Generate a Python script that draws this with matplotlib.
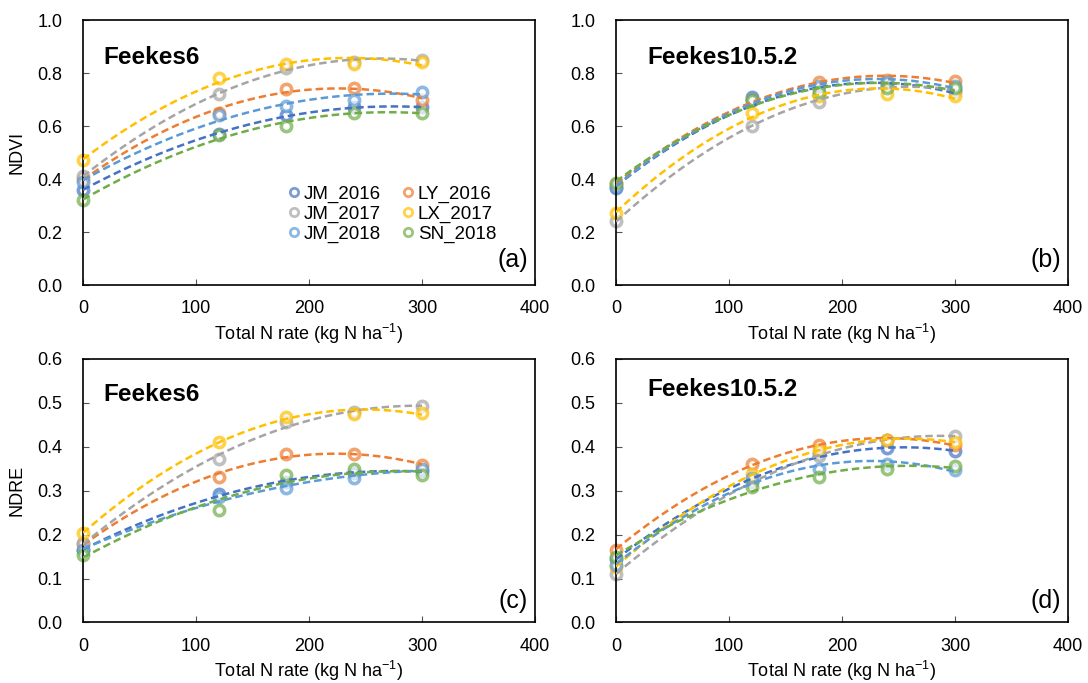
import numpy as np
import matplotlib
matplotlib.use("Agg")
import matplotlib.pyplot as plt
from matplotlib.lines import Line2D

plt.rcParams['font.family'] = ['Liberation Sans', 'DejaVu Sans']

# N rates (kg N/ha)
n_rate = [0, 120, 180, 240, 300]

sites = ["JM_2016", "LY_2016", "JM_2017", "LX_2017", "JM_2018", "SN_2018"]
colors = ["#4472C4", "#ED7D31", "#A5A5A5", "#FFC000", "#5B9BD5", "#70AD47"]

# NDVI at Feekes6 (a)
ndvi_f6 = {
    "JM_2016": [0.36, 0.57, 0.64, 0.67, 0.67],
    "LY_2016": [0.40, 0.65, 0.74, 0.745, 0.70],
    "JM_2017": [0.41, 0.72, 0.82, 0.84, 0.85],
    "LX_2017": [0.47, 0.78, 0.835, 0.835, 0.84],
    "JM_2018": [0.39, 0.64, 0.675, 0.70, 0.73],
    "SN_2018": [0.32, 0.565, 0.60, 0.65, 0.65],
}
# NDVI at Feekes10.5.2 (b)
ndvi_f10 = {
    "JM_2016": [0.365, 0.71, 0.72, 0.75, 0.735],
    "LY_2016": [0.38, 0.70, 0.765, 0.775, 0.77],
    "JM_2017": [0.24, 0.60, 0.69, 0.76, 0.73],
    "LX_2017": [0.27, 0.65, 0.715, 0.72, 0.715],
    "JM_2018": [0.37, 0.70, 0.75, 0.765, 0.75],
    "SN_2018": [0.385, 0.70, 0.73, 0.745, 0.745],
}
# NDRE at Feekes6 (c)
ndre_f6 = {
    "JM_2016": [0.165, 0.292, 0.32, 0.34, 0.345],
    "LY_2016": [0.178, 0.331, 0.384, 0.384, 0.358],
    "JM_2017": [0.18, 0.371, 0.456, 0.48, 0.492],
    "LX_2017": [0.203, 0.411, 0.468, 0.475, 0.477],
    "JM_2018": [0.165, 0.285, 0.305, 0.328, 0.35],
    "SN_2018": [0.153, 0.256, 0.335, 0.35, 0.335],
}
# NDRE at Feekes10.5.2 (d)
ndre_f10 = {
    "JM_2016": [0.145, 0.32, 0.385, 0.396, 0.39],
    "LY_2016": [0.166, 0.36, 0.405, 0.415, 0.405],
    "JM_2017": [0.11, 0.32, 0.38, 0.415, 0.425],
    "LX_2017": [0.127, 0.337, 0.392, 0.416, 0.411],
    "JM_2018": [0.13, 0.328, 0.35, 0.36, 0.348],
    "SN_2018": [0.15, 0.309, 0.33, 0.35, 0.356],
}

panels = [
    (ndvi_f6, "Feekes6", "(a)", "NDVI", 1.0),
    (ndvi_f10, "Feekes10.5.2", "(b)", "", 1.0),
    (ndre_f6, "Feekes6", "(c)", "NDRE", 0.6),
    (ndre_f10, "Feekes10.5.2", "(d)", "", 0.6),
]

fig = plt.figure(figsize=(10.88, 6.83), dpi=100)
pos = [
    [0.0763, 0.5827, 0.4154, 0.388],
    [0.5662, 0.5827, 0.4154, 0.388],
    [0.0763, 0.0886, 0.4154, 0.386],
    [0.5662, 0.0886, 0.4154, 0.386],
]
title_xy = [(0.044, 0.86), (0.069, 0.86), (0.044, 0.866), (0.069, 0.885)]
tag_y = [0.093, 0.093, 0.08, 0.08]

xs = np.array(n_rate, dtype=float)
xfit = np.linspace(0, 300, 200)

for i, (data, stage, tag, ylab, ymax) in enumerate(panels):
    ax = fig.add_axes(pos[i])
    for site, col in zip(sites, colors):
        ys = np.array(data[site])
        coef = np.polyfit(xs, ys, 2)  # 2nd order trend line
        ax.plot(xfit, np.polyval(coef, xfit), color=col, lw=1.8,
                ls=(0, (3, 1.6)), zorder=3)
        ax.scatter(xs, ys, s=55, facecolors="white", edgecolors=col,
                   linewidths=2.6, alpha=0.7, zorder=2, clip_on=False)
    ax.set_xlim(0, 400)
    ax.set_ylim(0, ymax)
    ax.set_xticks([0, 100, 200, 300, 400])
    if ymax == 1.0:
        ax.set_yticks(np.arange(0, 1.01, 0.2))
    else:
        ax.set_yticks(np.arange(0, 0.61, 0.1))
    ax.yaxis.set_major_formatter(matplotlib.ticker.FormatStrFormatter("%.1f"))
    ax.tick_params(labelsize=13, direction="in", length=4, color="#555555")
    ax.tick_params(axis="x", pad=11)
    ax.tick_params(axis="y", pad=15)
    for s in ax.spines.values():
        s.set_linewidth(1.2)
    ax.set_xlabel("Total N rate (kg N ha$^{\\mathregular{-1}}$)", fontsize=13, labelpad=3)
    if ylab:
        ax.set_ylabel(ylab, fontsize=13, labelpad=8)
    tx, ty = title_xy[i]
    ax.text(tx, ty, stage, transform=ax.transAxes, fontsize=17.5,
            fontweight="bold", va="center")
    ax.text(0.984, tag_y[i], tag, transform=ax.transAxes, fontsize=18,
            ha="right", va="center")
    if i == 0:
        order = ["JM_2016", "JM_2017", "JM_2018", "LY_2016", "LX_2017", "SN_2018"]
        hnd = [Line2D([], [], ls="none", marker="o", ms=6, mfc="white",
                      mec=colors[sites.index(k)], mew=2.0, alpha=0.7) for k in order]
        ax.legend(hnd, order, ncol=2, frameon=False,
                  fontsize=13.5, loc="center", bbox_to_anchor=(0.68, 0.268),
                  handletextpad=0.05, columnspacing=0.9, labelspacing=0.15,
                  handlelength=1.0, borderpad=0.2)

fig.savefig("out.png", dpi=100)
